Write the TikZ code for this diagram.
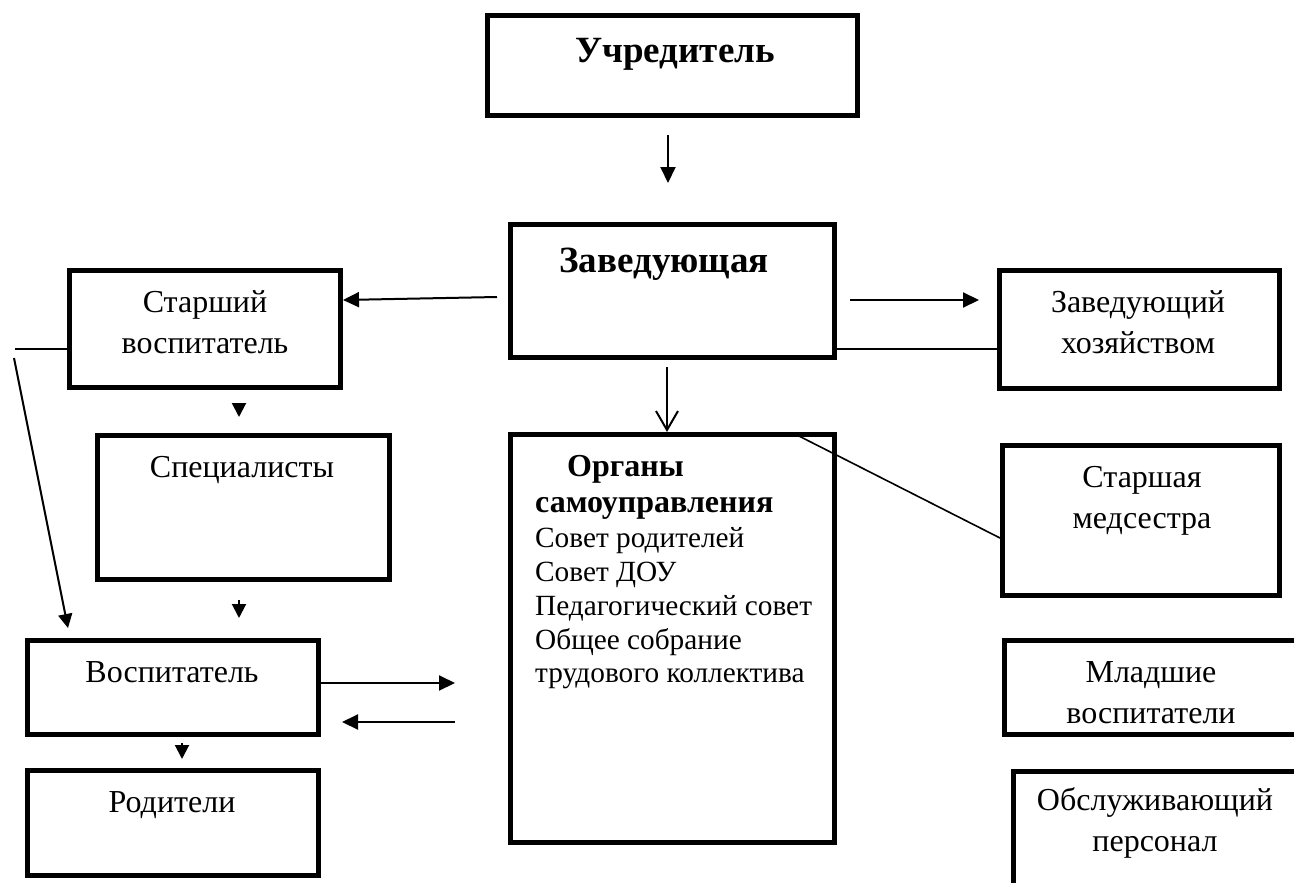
\documentclass[tikz,border=0pt]{standalone}
\usepackage{fontspec}
\setmainfont{Liberation Serif}
\usetikzlibrary{arrows.meta}
\begin{document}
\begin{tikzpicture}[x=1pt,y=-1pt,
  box/.style={draw, line width=5pt, inner sep=0pt, rectangle},
  lbl/.style={anchor=base, inner sep=0pt, font=\fontsize{32}{41}\selectfont},
  ttl/.style={anchor=base, inner sep=0pt, font=\fontsize{37}{42}\selectfont\bfseries},
  thinline/.style={line width=1.6pt},
  arr/.style={line width=2pt, -{Triangle[length=16pt,width=15pt]}},
  smallarr/.style={line width=2pt, -{Triangle[length=14pt,width=14pt]}},
  openarr/.style={line width=2pt, -{Straight Barb[length=19pt,width=22pt,line width=2pt]}}]
\useasboundingbox (0,0) rectangle (1294,883);
\clip (0,0) rectangle (1294,883);

% boxes
\node[box, minimum width=370pt, minimum height=100pt] (uchr) at (672.5,65.5) {};
\node[box, minimum width=324pt, minimum height=133pt] (zav) at (672.5,290.5) {};
\node[box, minimum width=324pt, minimum height=408pt] (org) at (672.5,638.5) {};
\node[box, minimum width=271pt, minimum height=117pt] (sv) at (205,329) {};
\node[box, minimum width=292pt, minimum height=144pt] (spec) at (243.5,507.5) {};
\node[box, minimum width=291pt, minimum height=94pt] (vosp) at (173,687.5) {};
\node[box, minimum width=291pt, minimum height=105pt] (rod) at (173,823) {};
\node[box, minimum width=280pt, minimum height=118pt] (zh) at (1139.5,329.5) {};
\node[box, minimum width=277pt, minimum height=150pt] (med) at (1141,520.5) {};
\node[box, minimum width=299pt, minimum height=94pt] (ml) at (1153.5,687.5) {};
\node[box, minimum width=293pt, minimum height=137pt] (obs) at (1159.5,839.5) {};

% texts
\node[ttl] (tuchr) at (675,63) {Учредитель};
\node[ttl] (tzav) at (664,272) {Заведующая};
\node[lbl] (tsv) at (205,312) {\begin{tabular}[t]{@{}c@{}}Старший\\воспитатель\end{tabular}};
\node[lbl] (tspec) at (242,477) {Специалисты};
\node[lbl] (tvosp) at (172,682) {Воспитатель};
\node[lbl] (trod) at (172,812) {Родители};
\node[lbl] (tzh) at (1138,312) {\begin{tabular}[t]{@{}c@{}}Заведующий\\хозяйством\end{tabular}};
\node[lbl] (tmed) at (1142,487) {\begin{tabular}[t]{@{}c@{}}Старшая\\медсестра\end{tabular}};
\node[lbl] (tml) at (1151,682) {\begin{tabular}[t]{@{}c@{}}Младшие\\воспитатели\end{tabular}};
\node[lbl] (tobs) at (1155,810) {\begin{tabular}[t]{@{}c@{}}Обслуживающий\\персонал\end{tabular}};
\node[anchor=base west, inner sep=0pt, font=\fontsize{29.3}{33.7}\selectfont] (torg) at (535,476)
  {\begin{tabular}[t]{@{}l@{}}\hspace*{32pt}{\fontsize{32}{34}\selectfont\bfseries Органы}\\[3pt]
   {\fontsize{32}{34}\selectfont\bfseries самоуправления}\\[1.5pt]
   Совет родителей\\Совет ДОУ\\Педагогический совет\\Общее собрание\\трудового коллектива\end{tabular}};

% free ends
\coordinate (a1s) at (668,135);
\coordinate (a1e) at (668,183);
\coordinate (a2s) at (667,367);
\coordinate (a3s) at (497,297);
\coordinate (a4s) at (850,300);
\coordinate (a4e) at (979,300);
\coordinate (l1s) at (15,349);
\coordinate (d1s) at (14,358);
\coordinate (d1e) at (68,628);
\coordinate (t1s) at (239,403);
\coordinate (t1e) at (239,417);
\coordinate (t2s) at (239,600);
\coordinate (t2e) at (239,618);
\coordinate (t3s) at (182,743);
\coordinate (t3e) at (182,759);
\coordinate (h1e) at (455,683);
\coordinate (h2s) at (455,722);
\coordinate (h2e) at (342,722);
\coordinate (m1s) at (793,433);

% connectors
\draw[arr] (a1s) -- (a1e);
\draw[openarr] (a2s) -- (org.north -| a2s);
\draw[arr] (a3s) -- (sv.east |- 0,300);
\draw[arr] (a4s) -- (a4e);
\draw[thinline] (zav.east |- 0,349) -- ([xshift=5pt]zh.west |- 0,349);
\draw[thinline] (m1s) -- (med.west |- 0,538);
\draw[thinline] (l1s) -- (sv.west |- l1s);
\draw[smallarr] (d1s) -- (d1e);
\draw[smallarr] (t1s) -- (t1e);
\draw[smallarr] (t2s) -- (t2e);
\draw[smallarr] (t3s) -- (t3e);
\draw[arr] (vosp.east |- h1e) -- (h1e);
\draw[arr] (h2s) -- (h2e);
\end{tikzpicture}
\end{document}
